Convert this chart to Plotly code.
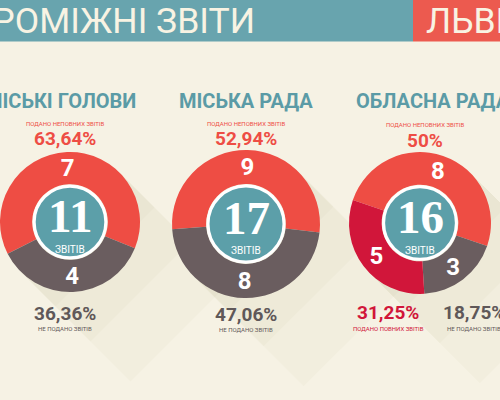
import plotly.graph_objects as go

W, H = 500, 400

# ---------------- data ----------------
banner_title = "ПРОМІЖНІ ЗВІТИ"
banner_city = "ЛЬВІВ"
titles = ["МІСЬКІ ГОЛОВИ", "МІСЬКА РАДА", "ОБЛАСНА РАДА"]
label_incomplete = "ПОДАНО НЕПОВНИХ ЗВІТІВ"
label_complete = "ПОДАНО ПОВНИХ ЗВІТІВ"
label_missing = "НЕ ПОДАНО ЗВІТІВ"
center_word = "ЗВІТІВ"

mayor_labels = ["Подано неповних звітів", "Не подано звітів"]
mayor_values = [7, 4]
city_labels = ["Подано неповних звітів", "Не подано звітів"]
city_values = [9, 8]
oblast_labels = ["Подано неповних звітів", "Не подано звітів", "Подано повних звітів"]
oblast_values = [8, 3, 5]

# ---------------- style ----------------
BG = "#f6f2e4"
TEAL_BANNER = "#68a4ae"
RED_BANNER = "#ec5a4f"
CREAM = "#f8f3e3"
RED = "#ee4d44"
GRAY = "#6a5d5f"
CRIMSON = "#d1163a"
TEAL = "#5c9fa9"
TITLE_TEAL = "#5b9ba6"
PCT_GRAY = "#5f5859"
SANS = "Roboto"
SERIF = "Liberation Serif"


def X(px):
    return px / W


def Y(py):
    return 1 - py / H


def pct(v, total):
    s = f"{v / total * 100:.2f}".rstrip("0").rstrip(".")
    return s.replace(".", ",") + "%"


# donut geometry (pixels): centre x, centre y, radius, rotation
geo = [
    dict(cx=70, cy=222, r=70, rot=243),
    dict(cx=246, cy=224, r=74, rot=266),
    dict(cx=420, cy=223, r=71, rot=289),
]
series = [
    (mayor_labels, mayor_values, [RED, GRAY]),
    (city_labels, city_values, [RED, GRAY]),
    (oblast_labels, oblast_values, [RED, GRAY, CRIMSON]),
]
HOLE = 0.54

fig = go.Figure()
shapes = []
annotations = []

for g, (labels, values, colors) in zip(geo, series):
    cx, cy, r = g["cx"], g["cy"], g["r"]
    # long flat shadow
    k = r / 2 ** 0.5
    for L in (35, 70, 110):
        pts = [(cx + k, cy - k), (cx + k + L, cy - k + L), (cx - k + L, cy + k + L), (cx - k, cy + k)]
        path = "M " + " L ".join(f"{X(a):.4f},{Y(b):.4f}" for a, b in pts) + " Z"
        shapes.append(dict(type="path", xref="paper", yref="paper", path=path,
                           fillcolor="rgba(120,95,50,0.028)", line=dict(width=0), layer="below"))
    fig.add_trace(go.Pie(
        labels=labels, values=values, sort=False, direction="clockwise", rotation=g["rot"],
        hole=HOLE, marker=dict(colors=colors, line=dict(width=0)),
        textinfo="value", textposition="inside", insidetextorientation="horizontal",
        textfont=dict(color="white", size=24, family=SANS, weight="bold"),
        domain=dict(x=[X(cx - r), X(cx + r)], y=[Y(cy + r), Y(cy - r)]),
        showlegend=False, hoverinfo="skip",
    ))
    rt = HOLE * r - 2
    total = sum(values)
    fig.add_trace(go.Pie(
        labels=["Усього"], values=[total], sort=False, hole=0,
        marker=dict(colors=[TEAL], line=dict(color="white", width=3)),
        textinfo="none", domain=dict(x=[X(cx - rt), X(cx + rt)], y=[Y(cy + rt), Y(cy - rt)]),
        showlegend=False, hoverinfo="skip",
    ))
    annotations.append(dict(x=X(cx), y=Y(cy - 6), text=f"<b>{total}</b>", showarrow=False,
                            font=dict(family=SERIF, size=47, color="white"), xanchor="center", yanchor="middle"))
    annotations.append(dict(x=X(cx), y=Y(cy + 27), text=center_word, showarrow=False,
                            font=dict(family=SANS, size=10, color="white"), xanchor="center", yanchor="middle"))

# banner
shapes.append(dict(type="rect", xref="paper", yref="paper", x0=0, x1=X(413), y0=Y(41.5), y1=1,
                   fillcolor=TEAL_BANNER, line=dict(width=0), layer="below"))
shapes.append(dict(type="rect", xref="paper", yref="paper", x0=X(413), x1=1, y0=Y(41.5), y1=1,
                   fillcolor=RED_BANNER, line=dict(width=0), layer="below"))
annotations.append(dict(x=X(257), y=Y(21), text=banner_title, showarrow=False, xanchor="right", yanchor="middle",
                        font=dict(family=SANS, size=35.5, color=CREAM)))
annotations.append(dict(x=X(424), y=Y(21), text=banner_city, showarrow=False, xanchor="left", yanchor="middle",
                        font=dict(family=SANS, size=35.5, color=CREAM)))

# section titles
annotations.append(dict(x=X(138), y=Y(101), text=titles[0], showarrow=False, xanchor="right", yanchor="middle",
                        font=dict(family=SANS, size=20, color=TITLE_TEAL, weight="bold")))
annotations.append(dict(x=X(246), y=Y(101), text=titles[1], showarrow=False, xanchor="center", yanchor="middle",
                        font=dict(family=SANS, size=20, color=TITLE_TEAL, weight="bold")))
annotations.append(dict(x=X(354), y=Y(101), text=titles[2], showarrow=False, xanchor="left", yanchor="middle",
                        font=dict(family=SANS, size=20, color=TITLE_TEAL, weight="bold")))


def label_pair(x, y_big, y_small, big, small, color, small_color):
    annotations.append(dict(x=X(x), y=Y(y_big), text=big, showarrow=False, xanchor="center", yanchor="middle",
                            font=dict(family=SANS, size=19, color=color, weight="bold")))
    annotations.append(dict(x=X(x), y=Y(y_small), text=small, showarrow=False, xanchor="center", yanchor="middle",
                            font=dict(family=SANS, size=6, color=small_color)))


mt = sum(mayor_values)
label_pair(65, 139, 123, pct(mayor_values[0], mt), label_incomplete, RED, RED)
label_pair(65, 313, 328, pct(mayor_values[1], mt), label_missing, PCT_GRAY, PCT_GRAY)
ct = sum(city_values)
label_pair(246, 139, 123, pct(city_values[0], ct), label_incomplete, RED, RED)
label_pair(246, 314, 329, pct(city_values[1], ct), label_missing, PCT_GRAY, PCT_GRAY)
ot = sum(oblast_values)
label_pair(425, 140, 124, pct(oblast_values[0], ot), label_incomplete, RED, RED)
label_pair(388, 312, 328, pct(oblast_values[2], ot), label_complete, CRIMSON, CRIMSON)
label_pair(474, 312, 328, pct(oblast_values[1], ot), label_missing, PCT_GRAY, PCT_GRAY)

fig.update_layout(
    width=W, height=H, margin=dict(l=0, r=0, t=0, b=0),
    paper_bgcolor=BG, plot_bgcolor=BG,
    shapes=shapes, annotations=annotations,
)
fig.write_html("out.html", config={"displayModeBar": False},
               post_script="document.body.style.margin='0';document.body.style.overflow='hidden';")
